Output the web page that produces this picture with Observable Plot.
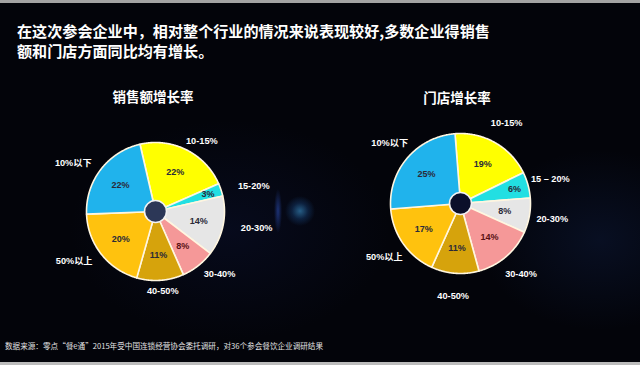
<!DOCTYPE html>
<html>
<head>
<meta charset="utf-8">
<script src="https://cdn.jsdelivr.net/npm/d3@7"></script>
<script src="https://cdn.jsdelivr.net/npm/@observablehq/plot@0.6"></script>
<style>
  html, body { margin: 0; padding: 0; background: #000; }
  #page {
    position: relative; width: 640px; height: 365px; overflow: hidden;
    background:
      radial-gradient(circle at 300px 211px, rgba(60,150,210,0.6) 0px, rgba(30,90,160,0.3) 8px, rgba(10,20,60,0) 15px),
      radial-gradient(ellipse 4px 22px at 278px 211px, rgba(50,90,210,0.5), rgba(0,0,0,0)),
      radial-gradient(ellipse 120px 90px at 600px 240px, rgba(20,40,90,0.3), rgba(0,0,0,0)),
      radial-gradient(ellipse 160px 110px at 230px 230px, rgba(15,25,70,0.3), rgba(0,0,0,0)),
      #03040a;
    font-family: "Noto Sans CJK SC", "Liberation Sans", sans-serif;
    color: #fff;
  }
  .bar { position: absolute; left: 0; width: 640px; }
  #title {
    position: absolute; left: 17px; top: 20px; font-size: 15.1px; font-weight: bold;
    line-height: 20px; white-space: nowrap;
  }
  .ptitle {
    position: absolute; font-size: 13.5px; font-weight: bold; white-space: nowrap;
    transform: translate(-50%, -50%); line-height: 1;
  }
  #foot {
    position: absolute; left: 5px; top: 341px; font-size: 7.6px; color: #e2e2e2; white-space: nowrap; line-height: 1.2;
  }
  .pie { position: absolute; }
  .pie svg { background: transparent !important; overflow: visible; }
</style>
</head>
<body>
<div id="page">
  <div class="bar" style="top:0;height:3px;background:#a3a3a3"></div>
  <div class="bar" style="top:362px;height:3px;background:#bcbcbc"></div>
  <div id="title">在这次参会企业中，相对整个行业的情况来说表现较好,多数企业得销售<br>额和门店方面同比均有增长。</div>
  <div class="ptitle" style="left:153px;top:97px">销售额增长率</div>
  <div class="ptitle" style="left:457px;top:98px">门店增长率</div>
  <div class="pie" id="pie1" style="left:5px;top:96px"></div>
  <div class="pie" id="pie2" style="left:310px;top:88px"></div>
  <div id="foot">数据来源：零点“餐e通”2015年受中国连锁经营协会委托调研，对36个参会餐饮企业调研结果</div>
</div>
<script>
// ---- data ----
const salesLabels = ["10-15%", "15-20%", "20-30%", "30-40%", "40-50%", "50%以上", "10%以下"];
const salesValues = [22, 3, 14, 8, 11, 20, 22];
const storeLabels = ["10-15%", "15 – 20%", "20-30%", "30-40%", "40-50%", "50%以上", "10%以下"];
const storeValues = [19, 6, 8, 14, 11, 17, 25];
const sliceColors = ["#ffff00", "#22dfe2", "#e6e6e6", "#f59898", "#d6a30c", "#ffc20e", "#20b3ec"];

const W = 300, H = 230, CX = 150, CY = 115;

function buildPie(labels, values, startDeg, r, lx, ly, holeFill) {
  const total = d3.sum(values);
  let a = startDeg;
  const sl = labels.map((label, i) => {
    const a0 = a; a += values[i] / total * 360;
    return {label, value: values[i], a0, a1: a, mid: (a0 + a) / 2};
  });
  const rad = d => d * Math.PI / 180;
  const pts = [];
  for (const s of sl) {
    pts.push({k: s.label, x: 0, y: 0});
    for (let t = s.a0; t < s.a1; t += 0.5) pts.push({k: s.label, x: Math.sin(rad(t)), y: Math.cos(rad(t))});
    pts.push({k: s.label, x: Math.sin(rad(s.a1)), y: Math.cos(rad(s.a1))});
    pts.push({k: s.label, x: 0, y: 0});
  }
  const inR = s => s.value <= 6 ? 0.8 : 0.64;
  return Plot.plot({
    width: W, height: H, margin: 0,
    x: {domain: [-CX / r, (W - CX) / r], axis: null},
    y: {domain: [-(H - CY) / r, CY / r], axis: null},
    color: {domain: labels, range: sliceColors},
    style: {background: "transparent", fontFamily: "'Liberation Sans', 'Noto Sans CJK SC', sans-serif"},
    marks: [
      Plot.line(pts, {x: "x", y: "y", z: "k", fill: "k", stroke: "#fff6e0", strokeWidth: 1.6, curve: "linear"}),
      Plot.dot([{x: 0, y: 0}], {x: "x", y: "y", r: 11, fill: holeFill, stroke: "#f2f2f2", strokeWidth: 1.6}),
      Plot.text(sl.filter(s => s.label !== "30-40%"), {
        x: s => Math.sin(rad(s.mid)) * inR(s), y: s => Math.cos(rad(s.mid)) * inR(s),
        text: s => s.value + "%", fill: "#2a2a38", fontWeight: "bold", fontSize: 9
      }),
      Plot.text(sl.filter(s => s.label === "30-40%"), {
        x: s => Math.sin(rad(s.mid)) * inR(s), y: s => Math.cos(rad(s.mid)) * inR(s),
        text: s => s.value + "%", fill: "#5a1216", fontWeight: "bold", fontSize: 9
      }),
      Plot.text(sl, {
        x: s => Math.sin(rad(s.mid)) * lx, y: s => Math.cos(rad(s.mid)) * ly,
        text: "label", fill: "#ffffff", fontWeight: "bold", fontSize: 9.2
      })
    ]
  });
}

document.getElementById("pie1").append(buildPie(salesLabels, salesValues, -13, 69, 1.5, 1.15, "#2c3757"));
document.getElementById("pie2").append(buildPie(storeLabels, storeValues, -4.5, 70, 1.33, 1.33, "#0b0f2a"));
</script>
</body>
</html>
